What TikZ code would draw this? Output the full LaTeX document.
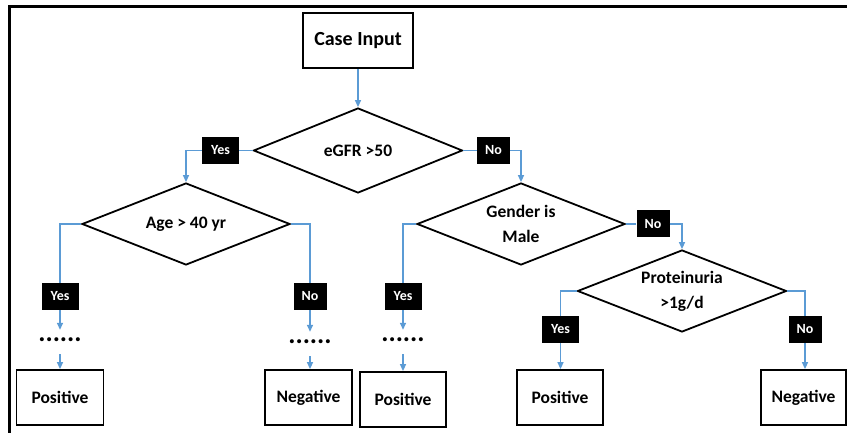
\documentclass[tikz,border=0pt]{standalone}
\usepackage{fontspec}
\setmainfont{Carlito}
\usetikzlibrary{shapes.geometric,arrows.meta}
\definecolor{lblue}{HTML}{5B9BD5}
\begin{document}
\begin{tikzpicture}[x=1pt,y=-1pt,
  box/.style={draw, line width=1.8pt, inner sep=0pt, minimum height=55pt,
    font=\fontsize{17.5}{21}\bfseries\selectfont},
  dec/.style={diamond, draw, line width=1.8pt, inner sep=0pt, aspect=2.5, align=center,
    font=\fontsize{17.5}{25}\bfseries\selectfont},
  lab/.style={fill=black, text=white, inner sep=0pt, minimum height=27pt,
    font=\fontsize{14}{16}\bfseries\selectfont},
  dotrow/.style={inner sep=0pt, text height=4pt, text depth=0pt,
    font=\fontsize{27}{30}\bfseries\selectfont},
  conn/.style={draw=lblue, line width=1.5pt},
  arr/.style={conn, -{Triangle[width=6pt,length=7pt]}}]
\useasboundingbox (0,0) rectangle (847,433);
% frame
\draw[line width=2.5pt] (9.5,433) -- (9.5,6.5) -- (847,6.5);
% main nodes
\node[box, minimum width=110pt, font=\fontsize{20}{24}\bfseries\selectfont] (ci) at (358,40.5) {Case Input};
\node[dec, minimum width=209pt, minimum height=85pt] (d1) at (358,150.5) {eGFR >50};
\node[dec, minimum width=208pt, minimum height=82pt] (d2) at (186,224) {Age > 40 yr};
\node[dec, minimum width=208pt, minimum height=82pt] (d3) at (521,224) {Gender is\\Male};
\node[dec, minimum width=209pt, minimum height=82pt] (d4) at (682,291) {Proteinuria\\>1g/d};
% labels
\node[lab, minimum width=37pt] (ly0) at (220.5,150.5) {Yes};
\node[lab, minimum width=33pt] (ln0) at (493.5,150.5) {No};
\node[lab, minimum width=37pt] (ly1) at (60,296.5) {Yes};
\node[lab, minimum width=33pt] (ln1) at (310,296.5) {No};
\node[lab, minimum width=37pt] (ly2) at (403,296.5) {Yes};
\node[lab, minimum width=33pt] (ln2) at (653,224) {No};
\node[lab, minimum width=37pt] (ly3) at (560.5,329.5) {Yes};
\node[lab, minimum width=33pt] (ln3) at (805,329.5) {No};
% dots
\node[dotrow] (t1) at (60,339) {......};
\node[dotrow] (t2) at (310,341) {......};
\node[dotrow] (t3) at (403,339) {......};
% leaves
\node[box, minimum width=87pt] (p1) at (60,397.5) {Positive};
\node[box, minimum width=87pt] (n1) at (308.5,397.5) {Negative};
\node[box, minimum width=86pt] (p2) at (403,399.5) {Positive};
\node[box, minimum width=86pt] (p3) at (560,397.5) {Positive};
\node[box, minimum width=85pt] (n2) at (803.5,397.5) {Negative};
% connectors
\draw[arr] (ci.south) -- (d1.north);
\draw[conn] (d1.west) -- (ly0.east);
\draw[arr] (ly0.west) -| (d2.north);
\draw[conn] (d1.east) -- (ln0.west);
\draw[arr] (ln0.east) -| (d3.north);
\draw[conn] (d2.west) -| (ly1.north);
\draw[conn] (d2.east) -| (ln1.north);
\draw[conn] (d3.west) -| (ly2.north);
\draw[conn] (d3.east) -- (ln2.west);
\draw[arr] (ln2.east) -| (d4.north);
\draw[conn] (d4.west) -| (ly3.north);
\draw[conn] (d4.east) -| (ln3.north);
\draw[arr, shorten >=7pt] (ly1.south) -- (t1.north);
\draw[arr, shorten <=13pt] (t1.south) -- (t1.south |- p1.north);
\draw[arr, shorten >=7pt] (ln1.south) -- (t2.north);
\draw[arr, shorten <=13pt] (t2.south) -- (t2.south |- n1.north);
\draw[arr, shorten >=7pt] (ly2.south) -- (t3.north);
\draw[arr, shorten <=13pt] (t3.south) -- (t3.south |- p2.north);
\draw[arr] (ly3.south) -- (ly3.south |- p3.north);
\draw[arr] (ln3.south) -- (ln3.south |- n2.north);
\end{tikzpicture}
\end{document}
